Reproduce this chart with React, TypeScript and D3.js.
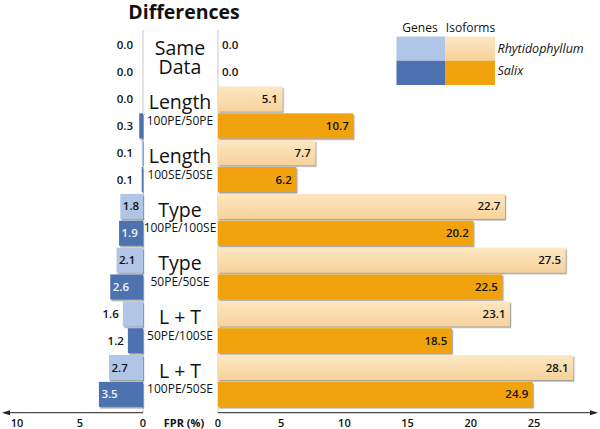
import React from 'react';
import * as d3 from 'd3';

// Data
const groupLabels = ['Same Data', 'Length', 'Length', 'Type', 'Type', 'L + T', 'L + T'];
const subLabels = ['', '100PE/50PE', '100SE/50SE', '100PE/100SE', '50PE/50SE', '50PE/100SE', '100PE/50SE'];
const genesRhyt = [0.0, 0.0, 0.1, 1.8, 2.1, 1.6, 2.7];
const genesSalix = [0.0, 0.3, 0.1, 1.9, 2.6, 1.2, 3.5];
const isoRhyt = [0.0, 5.1, 7.7, 22.7, 27.5, 23.1, 28.1];
const isoSalix = [0.0, 10.7, 6.2, 20.2, 22.5, 18.5, 24.9];
const rightTicks = [0, 5, 10, 15, 20, 25];
const leftTicks = [0, 5, 10];
const species = ['Rhytidophyllum', 'Salix'];

const W = 600;
const H = 429;
const FONT = '"Open Sans", "DejaVu Sans", sans-serif';

const C = {
  lightBlue: '#b1c5e6',
  darkBlue: '#4e72b0',
  lightOrangeTop: '#fde7c2',
  lightOrangeBot: '#f7d29b',
  darkOrange: '#f0a30c',
  sep: '#c8c8c8',
};

export default function App() {
  // 14 slots: each group has a Rhytidophyllum row and a Salix row
  const slots = d3.range(groupLabels.length * 2).map(String);
  const y = d3.scaleBand<string>().domain(slots).range([31.8, 407.8]).paddingInner(0.07).paddingOuter(0.035);
  const xR = d3.scaleLinear().domain([0, 25]).range([218, 534]);
  const xL = d3.scaleLinear().domain([0, 10]).range([143, 17]);
  const bw = y.bandwidth();
  const axisY = 412.7;

  const rows = groupLabels.flatMap((g, i) => [
    { slot: String(i * 2), gene: genesRhyt[i], iso: isoRhyt[i], dark: false },
    { slot: String(i * 2 + 1), gene: genesSalix[i], iso: isoSalix[i], dark: true },
  ]);

  return (
    <svg width={W} height={H} style={{ position: 'absolute', left: 0, top: 0, fontFamily: FONT }}>
      <defs>
        <linearGradient id="lo" x1="0" y1="0" x2="0" y2="1">
          <stop offset="0%" stopColor={C.lightOrangeTop} />
          <stop offset="100%" stopColor={C.lightOrangeBot} />
        </linearGradient>
        <filter id="sh" x="-5%" y="-20%" width="115%" height="150%">
          <feDropShadow dx="1.2" dy="1.6" stdDeviation="0.7" floodColor="#555" floodOpacity="0.55" />
        </filter>
      </defs>
      <rect width={W} height={H} fill="#fff" />

      {/* title */}
      <text x={184} y={19} textAnchor="middle" fontSize={19.5} fontWeight={700} fill="#111">Differences</text>

      {/* separators */}
      <line x1={143} x2={143} y1={30} y2={axisY} stroke={C.sep} strokeWidth={1} />
      <line x1={218} x2={218} y1={30} y2={axisY} stroke={C.sep} strokeWidth={1} />

      {/* bars */}
      {rows.map((r) => {
        const top = y(r.slot)!;
        const gx = xL(r.gene);
        const ix = xR(r.iso);
        const geneInside = r.gene >= 1.8;
        return (
          <g key={r.slot}>
            {r.gene > 0 && (
              <rect x={gx} y={top} width={xL(0) - gx} height={bw}
                fill={r.dark ? C.darkBlue : C.lightBlue} filter="url(#sh)" />
            )}
            {r.iso > 0 && (
              <rect x={xR(0)} y={top} width={ix - xR(0)} height={bw}
                fill={r.dark ? C.darkOrange : 'url(#lo)'} filter="url(#sh)" />
            )}
            <text
              x={geneInside ? gx + 2.5 : Math.min(gx - 4, 133)}
              y={top + bw / 2 + 4}
              textAnchor={geneInside ? 'start' : 'end'}
              fontSize={11.5} fontWeight={600}
              fill={geneInside && r.dark ? '#f2f2f2' : '#111'}
            >{r.gene.toFixed(1)}</text>
            <text
              x={r.iso > 3 ? ix - 4.5 : xR(0) + 4}
              y={top + bw / 2 + 4}
              textAnchor={r.iso > 3 ? 'end' : 'start'}
              fontSize={11.5} fontWeight={600} fill="#111"
            >{r.iso.toFixed(1)}</text>
          </g>
        );
      })}

      {/* category labels */}
      {groupLabels.map((g, i) => {
        const darkTop = y(String(i * 2 + 1))!;
        if (!subLabels[i]) {
          const [a, b] = g.split(' ');
          return (
            <g key={i}>
              <text x={180} y={darkTop - 5} textAnchor="middle" fontSize={19.5} fill="#111">{a}</text>
              <text x={180} y={darkTop + 14.5} textAnchor="middle" fontSize={19.5} fill="#111">{b}</text>
            </g>
          );
        }
        return (
          <g key={i}>
            <text x={180} y={darkTop - 4} textAnchor="middle" fontSize={19.5} fill="#111">{g}</text>
            <text x={180} y={darkTop + 11.5} textAnchor="middle" fontSize={12} fill="#111">{subLabels[i]}</text>
          </g>
        );
      })}

      {/* axes */}
      <line x1={xR(0)} x2={595} y1={axisY} y2={axisY} stroke="#222" strokeWidth={1} />
      <path d={`M598,${axisY} L590,${axisY - 2.5} L590,${axisY + 2.5} Z`} fill="#222" />
      <line x1={xL(0)} x2={6} y1={axisY} y2={axisY} stroke="#222" strokeWidth={1} />
      <path d={`M2,${axisY} L10,${axisY - 2.5} L10,${axisY + 2.5} Z`} fill="#222" />
      {rightTicks.map((t) => (
        <text key={'r' + t} x={xR(t)} y={426.5} textAnchor="middle" fontSize={11} fontWeight={600} fill="#111">{t}</text>
      ))}
      {leftTicks.map((t) => (
        <text key={'l' + t} x={xL(t)} y={426.5} textAnchor="middle" fontSize={11} fontWeight={600} fill="#111">{t}</text>
      ))}
      <text x={184} y={426.5} textAnchor="middle" fontSize={11} fontWeight={700} fill="#111">FPR (%)</text>

      {/* legend */}
      <text x={420} y={31.5} textAnchor="middle" fontSize={12} fill="#111">Genes</text>
      <text x={470.5} y={31.5} textAnchor="middle" fontSize={12} fill="#111">Isoforms</text>
      <rect x={396.5} y={36.5} width={48.5} height={24.2} fill={C.lightBlue} />
      <rect x={396.5} y={60.7} width={48.5} height={24.3} fill={C.darkBlue} />
      <rect x={445} y={36.5} width={50} height={24.2} fill="url(#lo)" />
      <rect x={445} y={60.7} width={50} height={24.3} fill={C.darkOrange} />
      {species.map((s, i) => (
        <text key={s} x={497.5} y={53 + i * 22} fontSize={12.5} fontStyle="italic" fill="#111">{s}</text>
      ))}
    </svg>
  );
}
